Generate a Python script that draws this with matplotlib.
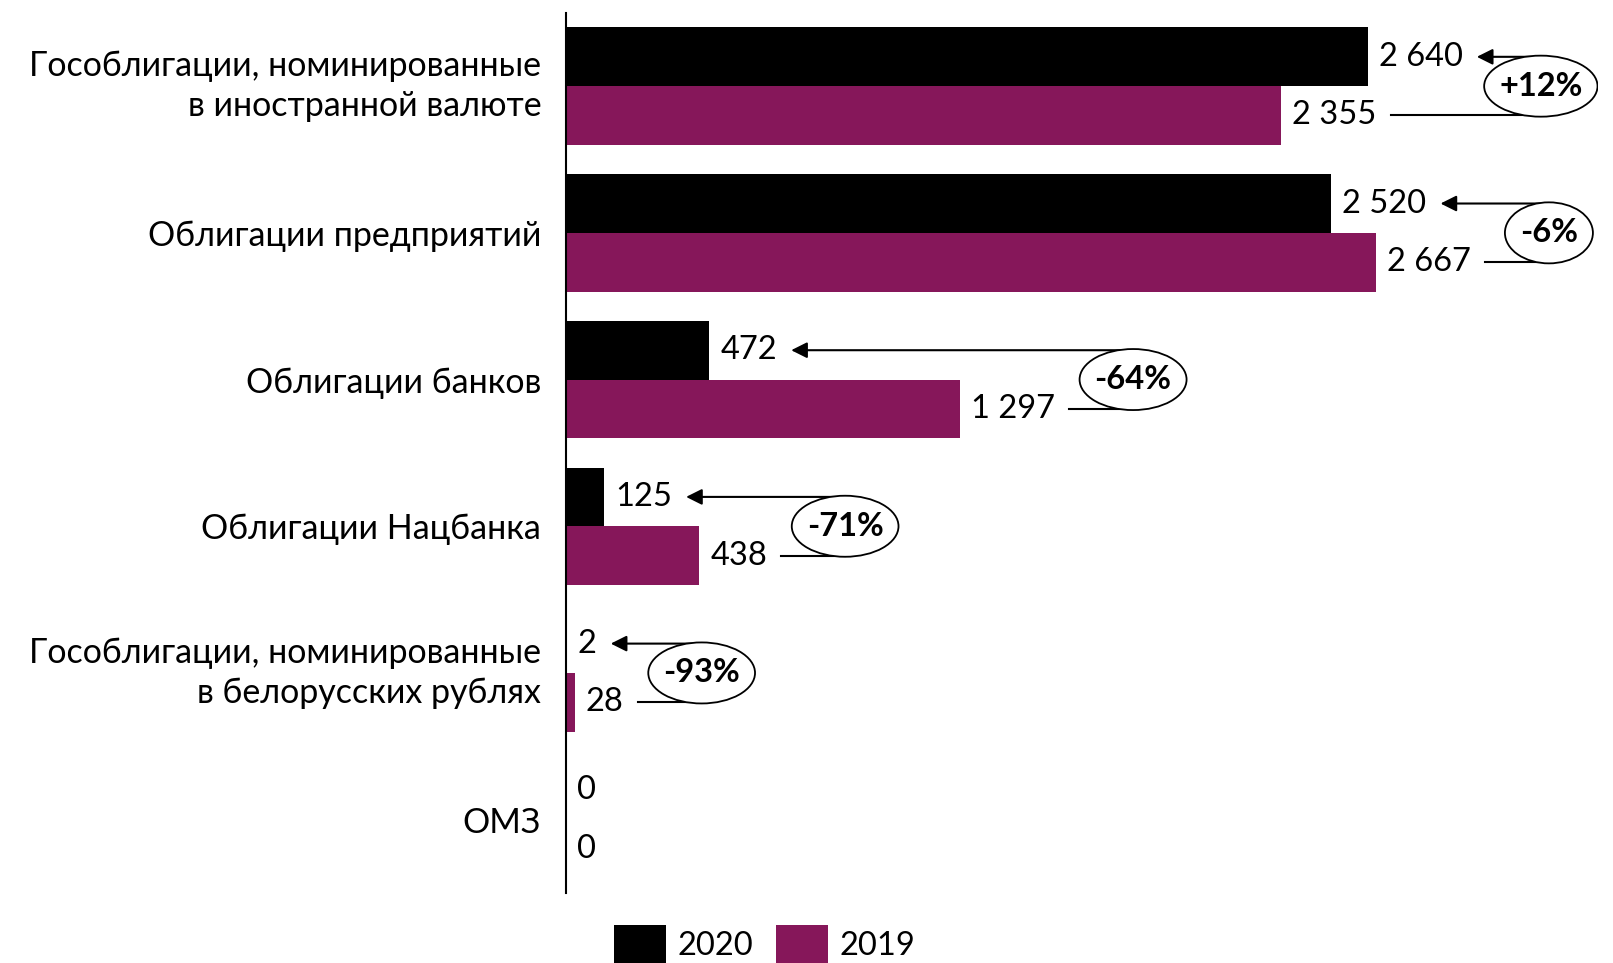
import matplotlib
matplotlib.use("Agg")
import matplotlib.pyplot as plt
from matplotlib.patches import Ellipse
import numpy as np

plt.rcParams['font.family'] = ['Lato', 'Open Sans', 'DejaVu Sans']

categories = ["Гособлигации, номинированные\nв иностранной валюте",
              "Облигации предприятий",
              "Облигации банков",
              "Облигации Нацбанка",
              "Гособлигации, номинированные\nв белорусских рублях",
              "ОМЗ"]
values_2020 = [2640, 2520, 472, 125, 2, 0]
values_2019 = [2355, 2667, 1297, 438, 28, 0]
series_names = ["2020", "2019"]

purple = "#86175A"
fs = 23.5


def fmt(v):
    return f"{v:,}".replace(",", " ")


fig = plt.figure(figsize=(16.13, 9.63), dpi=100)
ax = fig.add_axes([0.351, 0.0727, 0.64, 0.914])
y = np.arange(len(categories))
h = 0.4
ax.barh(y - h / 2, values_2020, height=h, color='black', label=series_names[0])
ax.barh(y + h / 2, values_2019, height=h, color=purple, label=series_names[1])
ax.set_ylim(len(categories) - 0.5, -0.5)
ax.set_xlim(0, 3400)

for s in ['top', 'right', 'bottom']:
    ax.spines[s].set_visible(False)
ax.spines['left'].set_linewidth(1.5)
ax.set_xticks([])
ax.set_yticks(y)
ax.set_yticklabels(categories, fontsize=24.5, ha='right', multialignment='right', linespacing=1.3)
ax.tick_params(axis='y', length=0, pad=18)
for t in ax.get_yticklabels():
    if "\n" in t.get_text():
        t.set_verticalalignment('center')

lab20, lab19 = [], []
for i in range(len(categories)):
    lab20.append(ax.annotate(fmt(values_2020[i]), (values_2020[i], i - h / 2), xytext=(8, 0),
                             textcoords='offset points', va='center', ha='left', fontsize=fs))
    lab19.append(ax.annotate(fmt(values_2019[i]), (values_2019[i], i + h / 2), xytext=(8, 0),
                             textcoords='offset points', va='center', ha='left', fontsize=fs))

fig.canvas.draw()
r = fig.canvas.get_renderer()
inv = ax.transData.inverted()
px_per_unit = ax.transData.transform((1, 0))[0] - ax.transData.transform((0, 0))[0]

for i in range(len(categories)):
    if values_2019[i] == 0:
        continue
    e20 = lab20[i].get_window_extent(r).x1
    e19 = lab19[i].get_window_extent(r).x1
    xr_px = max(e20, e19) + 78
    xr = inv.transform((xr_px, 0))[0]
    tip = inv.transform((e20 + 14, 0))[0]
    start19 = inv.transform((e19 + 14, 0))[0]
    ax.annotate('', xy=(tip, i - h / 2), xytext=(xr, i - h / 2),
                arrowprops=dict(arrowstyle='-|>', color='black', lw=1.5,
                                mutation_scale=24, shrinkA=0, shrinkB=0))
    ax.plot([start19, xr], [i + h / 2, i + h / 2], color='black', lw=1.5)
    pct = round((values_2020[i] / values_2019[i] - 1) * 100)
    txt = ax.text(xr, i, f"{pct:+d}%", ha='center', va='center', fontsize=fs,
                  fontweight='bold', zorder=5)
    tw = txt.get_window_extent(r).width
    ax.add_patch(Ellipse((xr, i), (tw + 30) / px_per_unit, 2 * h * 0.52,
                         fc='white', ec='black', lw=1.3, zorder=4))

ax.legend(loc='center', bbox_to_anchor=(0.474, 0.02), bbox_transform=fig.transFigure,
          ncol=2, frameon=False, fontsize=fs, handlelength=1.6, handleheight=1.4,
          handletextpad=0.35, columnspacing=0.7)

fig.savefig("out.png", dpi=100)
